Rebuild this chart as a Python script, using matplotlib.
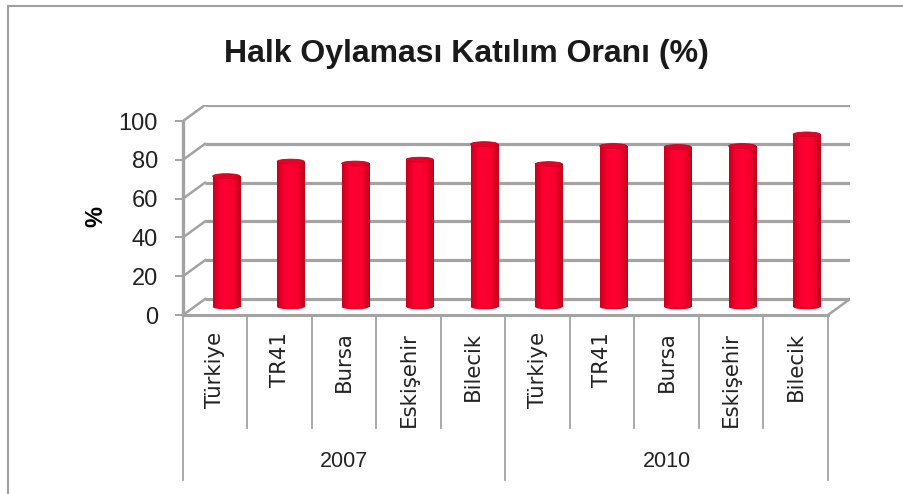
import numpy as np
import matplotlib.pyplot as plt
from matplotlib.patches import Ellipse, Rectangle
from matplotlib.colors import LinearSegmentedColormap

# data
years = ['2007', '2010']
regions = ['Türkiye', 'TR41', 'Bursa', 'Eskişehir', 'Bilecik']
turnout_2007 = [67.5, 75.0, 74.0, 76.0, 84.0]
turnout_2010 = [73.7, 83.0, 82.5, 83.0, 89.0]
yticks = [0, 20, 40, 60, 80, 100]

values = turnout_2007 + turnout_2010
labels = regions * len(years)
n = len(values)

# 3d depth offset (category units / value units)
ddx = 0.342
ddy = 8.25
bar_w = 0.42
grid_c = '#a3a3a3'
red = '#ff0030'
cyl = LinearSegmentedColormap.from_list('cyl', ['#c8001e', '#f8002f', '#ff0033', '#f4002d', '#c0001c'])

fig = plt.figure(figsize=(9.04, 4.94), dpi=100)
W, H = 904, 494
ax = fig.add_axes([183 / W, (H - 315) / H, (850 - 183) / W, (315 - 105) / H])

# outer border (top / left only visible)
fig.add_artist(Rectangle((8 / W, -0.1), 1.2, 1.1 - 6 / H, transform=fig.transFigure,
                         fill=False, edgecolor='#a0a0a0', lw=1.5))

# back wall + side wall gridlines
x0, x1 = -0.5, n - 0.5
for v in yticks:
    ax.plot([x0 + ddx, x1 + ddx], [v + ddy, v + ddy], color=grid_c, lw=2.3,
            solid_capstyle='butt', zorder=1)
    ax.plot([x0, x0 + ddx], [v, v + ddy], color=grid_c, lw=1.8, zorder=1)
# floor
ax.plot([x0, x1], [0, 0], color=grid_c, lw=2.2, zorder=1, clip_on=False)
ax.plot([x1, x1 + ddx], [0, ddy], color=grid_c, lw=1.8, zorder=1)

# bars (cylinder-ish)
xs = np.arange(n) + ddx / 2
base = ddy / 2
bars = ax.bar(xs, values, width=bar_w, bottom=base, color=red, edgecolor='none',
              zorder=3)
grad = np.linspace(0, 1, 64).reshape(1, -1)
for b, x, v in zip(bars, xs, values):
    ax.add_patch(Ellipse((x, base), bar_w, 2.4, facecolor='#e0002a',
                         edgecolor='none', zorder=2.9))
    im = ax.imshow(grad, cmap=cyl, aspect='auto', zorder=3.05,
                   extent=(x - bar_w / 2, x + bar_w / 2, base, base + v))
    im.set_clip_path(b)
    ax.add_patch(Ellipse((x, base + v), bar_w, 2.4, facecolor='#e6002a',
                         edgecolor='#c4001c', lw=0.6, zorder=3.1))
ax.set_xlim(-0.5, n - 0.5 + ddx)
ax.set_ylim(0, yticks[-1] + ddy)

# axes styling
for s in ['top', 'right', 'bottom']:
    ax.spines[s].set_visible(False)
ax.spines['left'].set_color(grid_c)
ax.spines['left'].set_linewidth(2.4)
ax.spines['left'].set_bounds(0, yticks[-1])
ax.set_yticks(yticks)
ax.tick_params(axis='y', length=6, width=1.4, color=grid_c, labelsize=17,
               labelcolor='#222222', pad=12)
ax.set_xticks(np.arange(n), labels, rotation=90, fontsize=15.3, color='#222222',
              family='DejaVu Sans')
ax.tick_params(axis='x', length=0, pad=12)
for t in ax.get_yticklabels():
    t.set_family('Liberation Sans')

ax.set_ylabel('%', fontsize=17, fontweight='bold', family='Liberation Sans')
ax.yaxis.set_label_coords(-0.114, 0.467)

# category dividers below the floor
inner_bottom = -58
outer_bottom = -85
k = len(regions)
for i in range(n + 1):
    bottom = outer_bottom if i % k == 0 else inner_bottom
    ax.plot([i - 0.5, i - 0.5], [0, bottom], color=grid_c, lw=1.3, clip_on=False,
            zorder=1)
for j, yr in enumerate(years):
    ax.text(j * k + (k - 1) / 2, -75.5, yr, ha='center', va='center', fontsize=15.5,
            color='#222222', family='Liberation Sans', clip_on=False)

fig.text(466 / W, 1 - 54 / H, 'Halk Oylaması Katılım Oranı (%)', ha='center',
         va='center', fontsize=23, fontweight='bold', family='Liberation Sans',
         color='#1a1a1a')

fig.savefig('out.png', dpi=100)
